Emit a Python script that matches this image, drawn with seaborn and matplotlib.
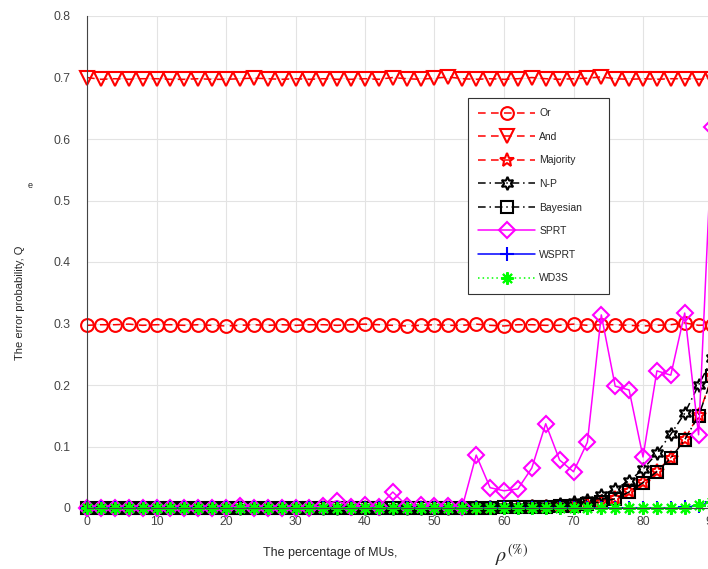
import matplotlib
matplotlib.use("Agg")
import matplotlib.pyplot as plt
import seaborn as sns

# percentage of MUs (x) and error probabilities
rho = [0, 2, 4, 6, 8, 10, 12, 14, 16, 18, 20, 22, 24, 26, 28, 30, 32, 34, 36, 38,
       40, 42, 44, 46, 48, 50, 52, 54, 56, 58, 60, 62, 64, 66, 68, 70, 72, 74, 76, 78,
       80, 82, 84, 86, 88, 90]

q_or = [0.297, 0.298, 0.298, 0.299, 0.297, 0.298, 0.298, 0.297, 0.298, 0.297,
        0.296, 0.297, 0.298, 0.297, 0.298, 0.297, 0.298, 0.298, 0.297, 0.298,
        0.299, 0.298, 0.297, 0.296, 0.297, 0.298, 0.297, 0.297, 0.299, 0.297,
        0.296, 0.298, 0.298, 0.297, 0.297, 0.299, 0.297, 0.298, 0.298, 0.297,
        0.296, 0.297, 0.298, 0.301, 0.297, 0.298]
q_and = [0.700, 0.697, 0.698, 0.697, 0.698, 0.698, 0.697, 0.697, 0.698, 0.697,
         0.697, 0.698, 0.699, 0.698, 0.697, 0.698, 0.697, 0.698, 0.697, 0.697,
         0.698, 0.697, 0.700, 0.698, 0.697, 0.699, 0.701, 0.698, 0.697, 0.698,
         0.697, 0.698, 0.700, 0.698, 0.697, 0.698, 0.699, 0.701, 0.698, 0.697,
         0.698, 0.697, 0.698, 0.698, 0.697, 0.698]
q_majority = [0, 0, 0, 0, 0, 0, 0, 0, 0, 0,
              0, 0, 0, 0, 0, 0, 0, 0, 0, 0,
              0, 0, 0, 0, 0, 0, 0, 0, 0, 0.0005,
              0.001, 0.001, 0.0015, 0.002, 0.003, 0.004, 0.007, 0.010, 0.016, 0.027,
              0.042, 0.060, 0.082, 0.112, 0.151, 0.215]
q_np = [0, 0, 0, 0, 0, 0, 0, 0, 0, 0,
        0, 0, 0, 0, 0, 0, 0, 0, 0, 0,
        0, 0, 0, 0, 0, 0, 0.0005, 0.001, 0.001, 0.001,
        0.0015, 0.002, 0.003, 0.004, 0.0065, 0.009, 0.013, 0.021, 0.031, 0.044,
        0.063, 0.089, 0.120, 0.154, 0.200, 0.244]
q_bayes = [0, 0, 0, 0, 0, 0, 0, 0, 0, 0,
           0, 0, 0, 0, 0, 0, 0, 0, 0, 0,
           0, 0, 0, 0, 0, 0, 0, 0, 0, 0,
           0.001, 0.001, 0.0015, 0.002, 0.003, 0.004, 0.007, 0.010, 0.015, 0.026,
           0.041, 0.059, 0.081, 0.111, 0.150, 0.214]
q_sprt = [0, 0, 0, 0, 0, 0, 0, 0, 0, 0,
          0, 0.004, 0, 0, 0, 0, 0, 0.004, 0.012, 0.002,
          0.005, 0.002, 0.026, 0.004, 0.005, 0.004, 0.004, 0.002, 0.086, 0.033,
          0.028, 0.031, 0.065, 0.137, 0.078, 0.059, 0.107, 0.314, 0.198, 0.192,
          0.083, 0.223, 0.216, 0.317, 0.119, 0.62]
q_wsprt = [0, 0, 0, 0, 0, 0, 0, 0, 0, 0,
           0, 0, 0, 0, 0, 0, 0, 0, 0, 0,
           0, 0, 0, 0, 0, 0, 0, 0, 0, 0,
           0, 0, 0, 0, 0, 0, 0, 0, 0, 0,
           0, 0, 0, 0.001, 0.004, 0.010]
q_wd3s = [0, 0, 0, 0, 0, 0, 0, 0, 0, 0,
          0, 0, 0, 0, 0, 0, 0, 0, 0, 0,
          0, 0, 0, 0, 0, 0, 0, 0, 0, 0,
          0, 0, 0, 0, 0, 0, 0, 0, 0, 0,
          0, 0, 0, 0, 0.005, 0.010]

labels = ["Or", "And", "Majority", "N-P", "Bayesian", "SPRT", "WSPRT", "WD3S"]
series = [q_or, q_and, q_majority, q_np, q_bayes, q_sprt, q_wsprt, q_wd3s]

dash = (0, (5, 3.5))
dashdot = (0, (5, 2.5, 1, 2.5))
styles = [
    dict(color="#ff0000", marker="o", ms=9.2, ls=dash),
    dict(color="#ff0000", marker="v", ms=10.5, ls=dash),
    dict(color="#ff0000", marker="*", ms=10.5, ls=dash),
    dict(color="#000000", marker=(6, 1, 0), ms=9.5, ls=dashdot),
    dict(color="#000000", marker="s", ms=8.5, ls=dashdot),
    dict(color="#ff00ff", marker="D", ms=8, ls="-"),
    dict(color="#0000ff", marker="+", ms=10, ls="-"),
    dict(color="#00ff00", marker=(8, 2, 0), ms=9, ls=(0, (1, 2))),
]

sns.set_theme(style="white")
plt.rcParams["font.family"] = ["Liberation Sans", "DejaVu Sans"]

fig = plt.figure(figsize=(7.08, 5.69), dpi=100)
ax = fig.add_axes([87 / 708, 1 - 508 / 569, 695 / 708, 492 / 569])

for lab, vals, st in zip(labels, series, styles):
    sns.lineplot(x=rho, y=vals, ax=ax, label=lab, color=st["color"],
                 marker=st["marker"], markersize=st["ms"], linestyle=st["ls"],
                 linewidth=1.1, markerfacecolor="none", markeredgecolor=st["color"],
                 markeredgewidth=1.5, clip_on=False)

ax.set_xlim(0, 100)
ax.set_ylim(0, 0.8)
ax.set_xticks(range(0, 101, 10))
ax.set_yticks([0, 0.1, 0.2, 0.3, 0.4, 0.5, 0.6, 0.7, 0.8])
ax.set_yticklabels(["0", "0.1", "0.2", "0.3", "0.4", "0.5", "0.6", "0.7", "0.8"])
ax.tick_params(direction="in", length=4, width=0.8, colors="#333333",
               labelcolor="#444444", labelsize=8.8)
ax.tick_params(axis="y", pad=12)
ax.tick_params(axis="x", pad=6)
ax.grid(True, color="#e3e3e3", linewidth=0.8)
for side in ["top", "right"]:
    ax.spines[side].set_visible(False)
for side in ["left", "bottom"]:
    ax.spines[side].set_color("#444444")
    ax.spines[side].set_linewidth(0.8)
ax.set_xlabel("")
ax.set_ylabel("")

leg = ax.legend(loc="upper left",
                bbox_to_anchor=(468 / 708, 1 - 293 / 569, 141 / 708, 195 / 569),
                bbox_transform=fig.transFigure, mode="expand", borderaxespad=0,
                fontsize=7.5, handlelength=5.4, labelspacing=1.3, frameon=True,
                fancybox=False, borderpad=1.0, handletextpad=0.45)
leg.get_frame().set_edgecolor("#333333")
leg.get_frame().set_linewidth(0.8)
leg.get_frame().set_facecolor("white")
leg.get_frame().set_alpha(1)

fig.text(20 / 708, 1 - 303 / 569, "The error probability, Q", rotation=90,
         ha="center", va="center", fontsize=8, color="#262626")
fig.text(30 / 708, 1 - 185 / 569, "e", ha="center", va="center", fontsize=6.5,
         color="#262626")
fig.text(330 / 708, 1 - 553 / 569, "The percentage of MUs,", ha="center",
         va="center", fontsize=9, color="#262626")
fig.text(512 / 708, 1 - 555 / 569, r"$\rho^{(\%)}$", ha="center", va="center",
         fontsize=14.5, color="#262626", math_fontfamily="stix")

fig.savefig("out.png", dpi=100)
